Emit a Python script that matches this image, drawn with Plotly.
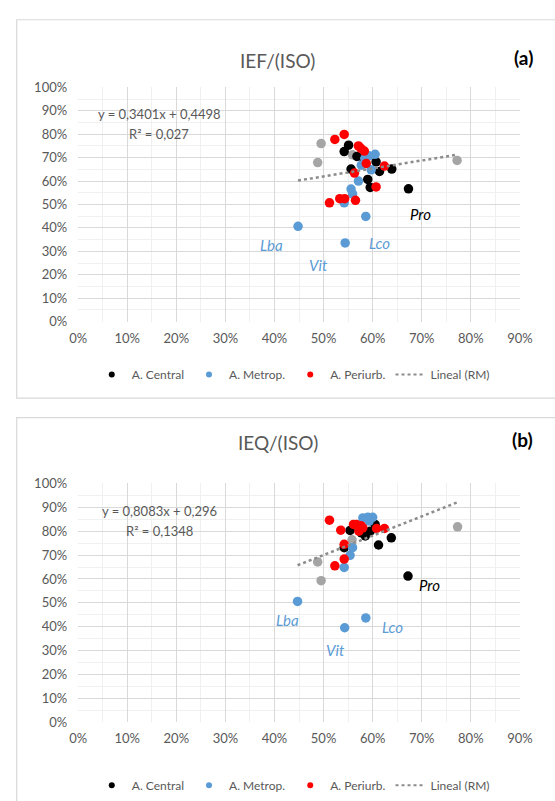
import plotly.graph_objects as go

# ---- (a) IEF/(ISO) ------------------------------------------------------
a_central_x = [55.1, 54.2, 55.6, 59.0, 59.5, 60.7, 61.4, 63.9, 67.3, 58.2, 56.8]
a_central_y = [75.3, 72.6, 65.1, 60.7, 57.3, 68.2, 64.1, 65.1, 56.7, 69.5, 70.5]
a_metro_x = [60.5, 58.4, 57.7, 59.7, 57.1, 55.6, 55.9, 54.2, 58.6, 44.8, 54.4, 59.2]
a_metro_y = [71.4, 69.6, 66.8, 64.8, 60.0, 56.6, 54.5, 50.7, 44.9, 40.7, 33.6, 70.8]
a_periurb_x = [52.3, 54.2, 57.6, 58.3, 58.7, 56.3, 62.4, 60.7, 53.3, 54.3, 51.2, 56.5, 57.1]
a_periurb_y = [77.8, 79.9, 74.0, 72.8, 67.5, 63.4, 66.4, 57.5, 52.5, 52.5, 50.7, 51.8, 75.0]
a_rm_x = [49.5, 48.8, 55.9, 77.2]
a_rm_y = [76.0, 67.9, 71.2, 68.8]
a_slope, a_intercept, a_r2 = 0.3401, 0.4498, 0.027
a_eq_text = ["y = 0,3401x + 0,4498", "R² = 0,027"]
a_labels = [("Pro", 69.8, 46.0, "#000000"), ("Lba", 39.3, 32.5, "#5B9BD5"),
            ("Vit", 49.0, 24.0, "#5B9BD5"), ("Lco", 61.3, 33.5, "#5B9BD5")]

# ---- (b) IEQ/(ISO) ------------------------------------------------------
b_central_x = [55.4, 57.7, 59.5, 60.5, 61.2, 63.8, 67.2, 54.2, 58.5]
b_central_y = [80.3, 79.3, 80.0, 82.8, 74.2, 77.2, 61.2, 73.1, 78.0]
b_metro_x = [58.0, 59.0, 60.0, 59.3, 55.9, 55.4, 54.2, 44.7, 58.6, 54.3]
b_metro_y = [85.5, 85.8, 85.8, 84.2, 73.1, 69.9, 64.8, 50.6, 43.7, 39.6]
b_periurb_x = [51.2, 53.5, 56.1, 56.7, 57.6, 57.2, 58.0, 60.8, 62.4, 54.2, 54.2, 52.3]
b_periurb_y = [84.6, 80.4, 82.8, 82.8, 82.3, 80.0, 81.4, 81.1, 81.1, 74.5, 68.3, 65.5]
b_rm_x = [48.8, 49.5, 55.8, 77.3]
b_rm_y = [67.1, 59.3, 76.4, 81.8]
b_slope, b_intercept, b_r2 = 0.8083, 0.296, 0.1348
b_eq_text = ["y = 0,8083x + 0,296", "R² = 0,1348"]
b_labels = [("Pro", 71.5, 57.5, "#000000"), ("Lba", 42.7, 42.8, "#5B9BD5"),
            ("Vit", 52.5, 30.5, "#5B9BD5"), ("Lco", 64.1, 40.0, "#5B9BD5")]

x_ticks = [0, 10, 20, 30, 40, 50, 60, 70, 80, 90]
y_ticks = [0, 10, 20, 30, 40, 50, 60, 70, 80, 90, 100]

COL_C, COL_M, COL_P, COL_RM = "#000000", "#5B9BD5", "#FF0000", "#A5A5A5"
COL_TREND = "#8C8C8C"
TXT = "#595959"
FONT = "Lato"
W, H = 555, 801


def py(px):
    return 1 - px / H


def px_x(px):
    return px / W


def pct(v):
    return [u / 100 for u in v]


fig = go.Figure()

panels = [
    dict(xa="x", ya="y", leg="legend", title="IEF/(ISO)", tag="(a)",
         cx=a_central_x, cy=a_central_y, mx=a_metro_x, my=a_metro_y,
         px_=a_periurb_x, py_=a_periurb_y, rx=a_rm_x, ry=a_rm_y,
         m=a_slope, b=a_intercept, eq=a_eq_text, labels=a_labels,
         top=81, bottom=320, box_top=12, box_bottom=398, title_y=40, leg_y=374),
    dict(xa="x2", ya="y2", leg="legend2", title="IEQ/(ISO)", tag="(b)",
         cx=b_central_x, cy=b_central_y, mx=b_metro_x, my=b_metro_y,
         px_=b_periurb_x, py_=b_periurb_y, rx=b_rm_x, ry=b_rm_y,
         m=b_slope, b=b_intercept, eq=b_eq_text, labels=b_labels,
         top=485, bottom=729, box_top=418, box_bottom=815, title_y=443, leg_y=793),
]

annotations = []
shapes = []

for p in panels:
    # point series: RM first, then the three areas
    for xs, ys, col in [(p["rx"], p["ry"], COL_RM), (p["cx"], p["cy"], COL_C),
                        (p["mx"], p["my"], COL_M), (p["px_"], p["py_"], COL_P)]:
        fig.add_trace(go.Scatter(x=pct(xs), y=pct(ys), mode="markers",
                                 marker=dict(color=col, size=9.5, line=dict(width=0)),
                                 xaxis=p["xa"], yaxis=p["ya"], showlegend=False,
                                 hoverinfo="skip"))
    # linear trend over the span of all points
    all_x = pct(p["cx"] + p["mx"] + p["px_"] + p["rx"])
    x0, x1 = min(all_x), max(all_x)
    fig.add_trace(go.Scatter(x=[x0, x1], y=[p["m"] * x0 + p["b"], p["m"] * x1 + p["b"]],
                             mode="lines", line=dict(color=COL_TREND, width=2.5, dash="dot"),
                             xaxis=p["xa"], yaxis=p["ya"], showlegend=False,
                             hoverinfo="skip"))
    # legend entries (small symbols)
    for name, col in [("A. Central", COL_C), ("A. Metrop.", COL_M), ("A. Periurb.", COL_P)]:
        fig.add_trace(go.Scatter(x=[None], y=[None], mode="markers", name=name,
                                 marker=dict(color=col, size=6),
                                 xaxis=p["xa"], yaxis=p["ya"], legend=p["leg"]))
    fig.add_trace(go.Scatter(x=[None], y=[None], mode="lines", name="Lineal (RM)",
                             line=dict(color=COL_TREND, width=2, dash="dot"),
                             xaxis=p["xa"], yaxis=p["ya"], legend=p["leg"]))

    # point labels
    for txt, lx, ly, col in p["labels"]:
        annotations.append(dict(x=lx / 100, y=ly / 100, xref=p["xa"], yref=p["ya"],
                                text=f"<i>{txt}</i>", showarrow=False,
                                font=dict(family=FONT, size=15, color=col)))
    # trend equation
    for txt, ty in zip(p["eq"], [0.885, 0.80]):
        annotations.append(dict(x=0.165, y=ty, xref=p["xa"], yref=p["ya"], text=txt,
                                showarrow=False, font=dict(family=FONT, size=13, color=TXT)))

    # titles
    annotations.append(dict(x=px_x(280), y=py(p["title_y"]), xref="paper", yref="paper",
                            text=p["title"], showarrow=False,
                            font=dict(family=FONT, size=19, color=TXT)))
    annotations.append(dict(x=px_x(548), y=py(p["title_y"] - 3), xref="paper", yref="paper",
                            text=f"<b>{p['tag']}</b>", showarrow=False,
                            font=dict(family=FONT, size=19, color="#000000")))
    # chart frame
    shapes.append(dict(type="rect", xref="paper", yref="paper",
                       x0=px_x(8), x1=px_x(600), y0=py(p["box_bottom"]), y1=py(p["box_top"]),
                       line=dict(color="#D9D9D9", width=1.2), fillcolor="rgba(0,0,0,0)",
                       layer="below"))

axis_common = dict(
    showgrid=True, gridcolor="#D9D9D9", gridwidth=1,
    zeroline=False, showline=False, ticks="",
    tickformat=".0%", tickfont=dict(family=FONT, size=13, color=TXT),
    minor=dict(showgrid=True, gridcolor="#F0F0F0", gridwidth=1, nticks=5),
)

xdom = [px_x(72), px_x(532)]
p0, p1 = panels
fig.update_layout(
    width=W, height=H, margin=dict(l=0, r=0, t=0, b=0),
    paper_bgcolor="white", plot_bgcolor="white",
    font=dict(family=FONT, color=TXT),
    xaxis=dict(domain=xdom, range=[0, 0.9], tickvals=pct(x_ticks),
               anchor="y", ticklabelstandoff=7, **axis_common),
    yaxis=dict(domain=[py(p0["bottom"]), py(p0["top"])], range=[0, 1.0],
               tickvals=pct(y_ticks), anchor="x", ticklabelstandoff=10,
               **axis_common),
    xaxis2=dict(domain=xdom, range=[0, 0.9], tickvals=pct(x_ticks),
                anchor="y2", ticklabelstandoff=7, **axis_common),
    yaxis2=dict(domain=[py(p1["bottom"]), py(p1["top"])], range=[0, 1.0],
                tickvals=pct(y_ticks), anchor="x2", ticklabelstandoff=10,
                **axis_common),
    legend=dict(orientation="h", x=px_x(296), xanchor="center", y=py(p0["leg_y"]),
                yanchor="middle", font=dict(family=FONT, size=12, color=TXT),
                itemwidth=30, bgcolor="rgba(0,0,0,0)"),
    legend2=dict(orientation="h", x=px_x(296), xanchor="center", y=py(p1["leg_y"]),
                 yanchor="middle", font=dict(family=FONT, size=12, color=TXT),
                 itemwidth=30, bgcolor="rgba(0,0,0,0)"),
    annotations=annotations,
    shapes=shapes,
)

fig.write_html("out.html")
